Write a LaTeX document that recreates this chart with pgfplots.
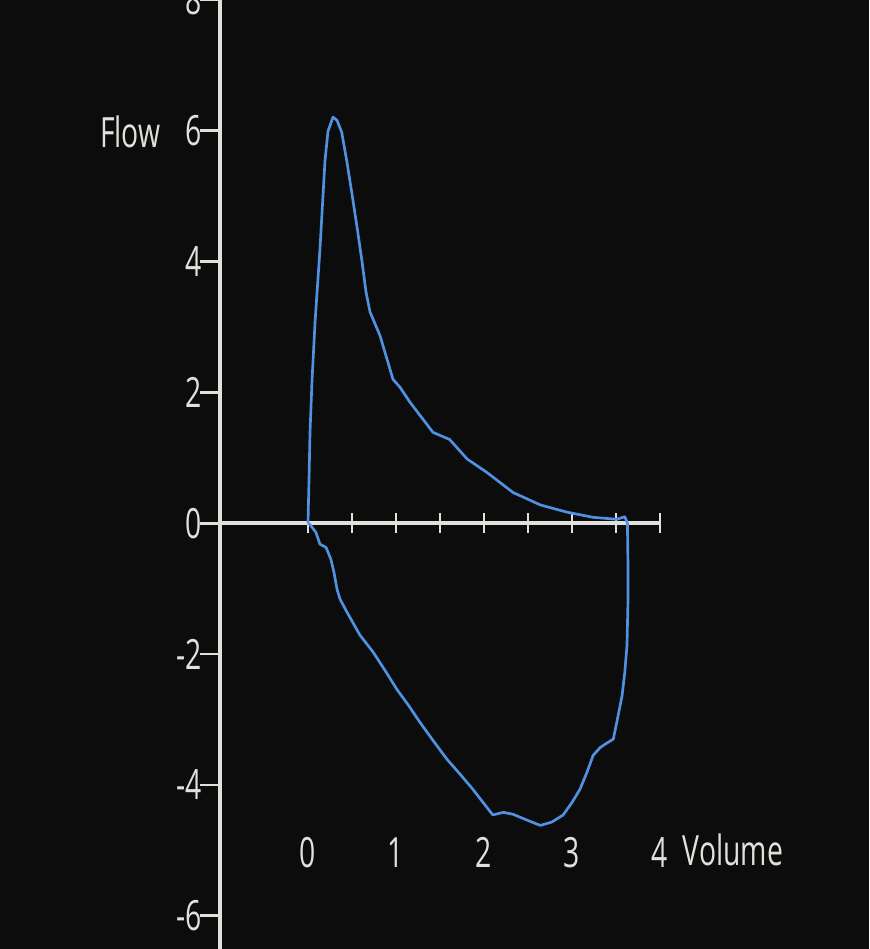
\documentclass[border=0pt]{standalone}
\usepackage{pgfplots}
\pgfplotsset{compat=1.18}
\usepackage{fontspec}
\setmainfont{Open Sans}[FakeStretch=0.68]
\definecolor{bg}{RGB}{12,12,12}
\definecolor{axcol}{RGB}{225,225,220}
\definecolor{loopcol}{RGB}{80,145,225}

% flow-volume loop
\pgfplotstableread{
vol flow
0.000 0.00
0.011 0.63
0.023 1.39
0.045 2.16
0.080 3.07
0.136 4.19
0.193 5.54
0.227 5.99
0.284 6.21
0.330 6.16
0.383 5.98
0.443 5.52
0.497 5.06
0.557 4.53
0.610 4.04
0.660 3.53
0.705 3.23
0.818 2.87
0.966 2.20
1.045 2.08
1.159 1.85
1.420 1.39
1.610 1.28
1.810 0.98
2.030 0.78
2.330 0.47
2.640 0.28
2.940 0.17
3.240 0.09
3.510 0.06
3.600 0.10
3.630 0.00
3.636 -0.60
3.636 -1.21
3.625 -1.87
3.600 -2.28
3.570 -2.63
3.520 -2.97
3.470 -3.30
3.375 -3.38
3.320 -3.43
3.240 -3.55
3.170 -3.81
3.090 -4.07
3.000 -4.27
2.900 -4.46
2.770 -4.57
2.640 -4.62
2.490 -4.54
2.330 -4.45
2.220 -4.42
2.100 -4.46
1.990 -4.27
1.875 -4.07
1.730 -3.84
1.580 -3.61
1.420 -3.32
1.270 -3.04
1.140 -2.78
1.010 -2.54
0.875 -2.25
0.740 -1.97
0.590 -1.71
0.443 -1.36
0.364 -1.16
0.330 -1.01
0.295 -0.75
0.260 -0.55
0.205 -0.37
0.136 -0.32
0.090 -0.14
0.023 -0.02
0.000 0.00
}\loopdata

\begin{document}
\begin{tikzpicture}
\fill[bg] (-66pt,0) rectangle (194.7pt,284.7pt);
\begin{axis}[
    at={(0,0)}, anchor=south west,
    scale only axis,
    width=132pt, height=284.7pt,
    xmin=-1, xmax=4,
    ymin=-6.51, ymax=8,
    axis x line*=middle,
    axis y line*=left,
    hide obscured x ticks=false,
    hide obscured y ticks=false,
    axis line style={axcol, line width=1.2pt},
    xtick={0,0.5,...,4},
    xticklabels={0,,1,,2,,3,,4},
    ytick={-6,-4,...,8},
    tick align=center,
    major tick length=6pt,
    tick style={axcol, line width=0.8pt},
    every y tick/.append style={xshift=-3pt},
    /pgf/number format/assume math mode=true,
    tick label style={text=axcol, font=\fontsize{12.5}{14}\selectfont},
    xticklabel style={anchor=center, yshift=-95.8pt},
    yticklabel style={xshift=1pt},
    clip=false,
]
\addplot[loopcol, line width=0.8pt, line join=round] table[x=vol, y=flow] {\loopdata};
\node[text=axcol, font=\fontsize{12.5}{14}\selectfont] at (axis cs:-2.02,5.98) {Flow};
\node[text=axcol, font=\fontsize{12.5}{14}\selectfont] at (axis cs:4.83,-4.99) {Volume};
\end{axis}
\pgfresetboundingbox
\useasboundingbox (-66pt,0) rectangle (194.7pt,284.7pt);
\end{tikzpicture}
\end{document}
